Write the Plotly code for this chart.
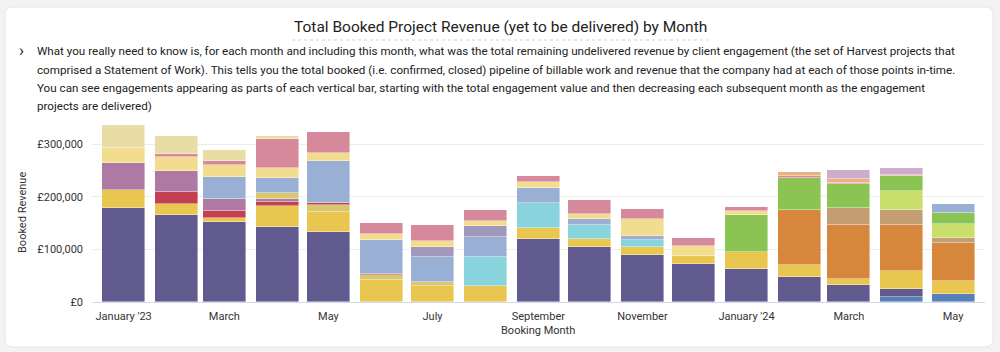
import plotly.graph_objects as go

# ---------------- data (values in £) ----------------
months = ["2023-01-01", "2023-02-01", "2023-03-01", "2023-04-01", "2023-05-01", "2023-06-01",
          "2023-07-01", "2023-08-01", "2023-09-01", "2023-10-01", "2023-11-01", "2023-12-01",
          "2024-01-01", "2024-02-01", "2024-03-01", "2024-04-01", "2024-05-01"]

steel_blue   = [0, 0, 0, 0, 0, 0, 0, 0, 0, 0, 0, 0, 0, 0, 0, 9000, 16000]
purple       = [178000, 166000, 153000, 142000, 134000, 0, 0, 0, 119000, 104000, 89000, 73000, 62000, 47000, 32000, 15000, 0]
yellow       = [35000, 21000, 6000, 41000, 38000, 42000, 30000, 30000, 21000, 15000, 15000, 14000, 34000, 24000, 11000, 35000, 24000]
khaki        = [0, 0, 0, 0, 12000, 8500, 7500, 0, 0, 0, 0, 0, 0, 0, 0, 0, 0]
red          = [0, 23000, 15000, 8000, 4000, 2500, 0, 0, 0, 0, 0, 0, 0, 0, 0, 0, 0]
mauve        = [51000, 40000, 21000, 4000, 0, 0, 0, 0, 0, 0, 0, 0, 0, 0, 0, 0, 0]
khaki_b      = [0, 0, 0, 12000, 0, 0, 0, 0, 0, 0, 0, 0, 0, 0, 0, 0, 0]
cyan         = [0, 0, 0, 0, 0, 0, 0, 55600, 48700, 27600, 13900, 0, 0, 0, 0, 0, 0]
orange       = [0, 0, 0, 0, 0, 0, 0, 0, 0, 0, 0, 0, 0, 104000, 104000, 88000, 73000]
tan          = [0, 0, 0, 0, 0, 0, 0, 0, 0, 0, 0, 0, 0, 0, 31600, 28000, 9500]
blue         = [0, 0, 43600, 29000, 80000, 64000, 48000, 38500, 29000, 11400, 7600, 0, 0, 0, 0, 0, 0]
grey_purple  = [0, 0, 0, 0, 0, 0, 20000, 21000, 0, 0, 0, 0, 0, 0, 0, 0, 0]
lime         = [0, 0, 0, 0, 0, 0, 0, 0, 0, 0, 0, 0, 0, 0, 0, 37000, 26000]
green        = [0, 0, 0, 0, 0, 0, 0, 0, 0, 0, 0, 0, 69000, 60000, 46000, 28000, 20000]
light_yellow = [28000, 26000, 22000, 19700, 15000, 12000, 10000, 9500, 10700, 9500, 31600, 19700, 8900, 0, 0, 0, 0]
pink         = [0, 6000, 7000, 54000, 41000, 21000, 31000, 19600, 10600, 26000, 19700, 15800, 7600, 5000, 1500, 0, 0]
light_orange = [0, 0, 0, 0, 0, 0, 0, 0, 0, 0, 0, 0, 0, 7600, 7600, 2000, 0]
lilac        = [0, 0, 0, 0, 0, 0, 0, 0, 0, 0, 0, 0, 0, 0, 17600, 13000, 0]
pale_khaki   = [44000, 33500, 21000, 6600, 0, 0, 0, 0, 0, 0, 0, 0, 0, 0, 0, 0, 0]
blue_top     = [0, 0, 0, 0, 0, 0, 0, 0, 0, 0, 0, 0, 0, 0, 0, 0, 17000]

series = [
    ("Engagement A", steel_blue, "#5780b8"),
    ("Engagement B", purple, "#605a8f"),
    ("Engagement C", yellow, "#e8c650"),
    ("Engagement D", khaki, "#d9c76c"),
    ("Engagement E", red, "#c2404f"),
    ("Engagement F", mauve, "#ae79a3"),
    ("Engagement G", khaki_b, "#d9c76c"),
    ("Engagement H", cyan, "#89d3dc"),
    ("Engagement I", orange, "#d6873b"),
    ("Engagement J", tan, "#c49e73"),
    ("Engagement K", blue, "#99b0d4"),
    ("Engagement L", grey_purple, "#a099bc"),
    ("Engagement M", lime, "#c9de6b"),
    ("Engagement N", green, "#8bc452"),
    ("Engagement O", light_yellow, "#f2dd8f"),
    ("Engagement P", pink, "#d6899a"),
    ("Engagement Q", light_orange, "#e9b27e"),
    ("Engagement R", lilac, "#cfabcc"),
    ("Engagement S", pale_khaki, "#e8dea5"),
    ("Engagement T", blue_top, "#99b0d4"),
]

tick_vals = ["2023-01-01", "2023-03-01", "2023-05-01", "2023-07-01", "2023-09-01",
             "2023-11-01", "2024-01-01", "2024-03-01", "2024-05-01"]
tick_text = ["January '23", "March", "May", "July", "September", "November",
             "January '24", "March", "May"]

title_text = "Total Booked Project Revenue (yet to be delivered) by Month"
desc_lines = [
    "What you really need to know is, for each month and including this month, what was the total remaining undelivered revenue by client engagement (the set of Harvest projects that",
    "comprised a Statement of Work). This tells you the total booked (i.e. confirmed, closed) pipeline of billable work and revenue that the company had at each of those points in-time.",
    "You can see engagements appearing as parts of each vertical bar, starting with the total engagement value and then decreasing each subsequent month as the engagement",
    "projects are delivered)",
]

# ---------------- layout geometry ----------------
W, H = 1000, 352
L, R, T, B = 92, 985, 118, 302
FONT = "Roboto, Arial, sans-serif"


def px(x):
    return (x - L) / (R - L)


def py(y):
    return (B - y) / (B - T)


fig = go.Figure()
for name, vals, color in series:
    fig.add_trace(go.Bar(
        x=months, y=vals, name=name,
        marker=dict(color=color, line=dict(color="rgba(255,255,255,0.7)", width=0.6)),
        width=25.2 * 86400000,
        hovertemplate="%{x|%B %Y}<br>£%{y:,.0f}<extra>" + name + "</extra>",
    ))

# card with rounded corners
cx0, cx1, cy0, cy1, rad = 5, 993, 7, 347, 8
rx = rad / (R - L)
ry = rad / (B - T)
X0, X1, Y0, Y1 = px(cx0), px(cx1), py(cy1), py(cy0)
card_path = (f"M {X0+rx},{Y0} L {X1-rx},{Y0} Q {X1},{Y0} {X1},{Y0+ry} "
             f"L {X1},{Y1-ry} Q {X1},{Y1} {X1-rx},{Y1} "
             f"L {X0+rx},{Y1} Q {X0},{Y1} {X0},{Y1-ry} "
             f"L {X0},{Y0+ry} Q {X0},{Y0} {X0+rx},{Y0} Z")

shapes = [
    dict(type="path", xref="paper", yref="paper", path=card_path,
         fillcolor="white", line=dict(color="#e6e6e6", width=1), layer="below"),
    dict(type="line", xref="paper", yref="paper", x0=px(292), x1=px(708), y0=py(40), y1=py(40),
         line=dict(color="#d2d2d2", width=1, dash="dot")),
]

annotations = [
    dict(text=title_text, xref="paper", yref="paper", x=px(500), y=py(27),
         xanchor="center", yanchor="middle", showarrow=False,
         font=dict(family=FONT, size=15.5, color="#222222")),
    dict(text="›", xref="paper", yref="paper", x=px(21), y=py(50),
         xanchor="center", yanchor="middle", showarrow=False,
         font=dict(family=FONT, size=17, color="#222222")),
    dict(text="Booked Revenue", xref="paper", yref="paper", x=px(22), y=py(213),
         xanchor="center", yanchor="middle", showarrow=False, textangle=-90,
         font=dict(family=FONT, size=11, color="#333333")),
    dict(text="Booking Month", xref="paper", yref="paper", x=px(538), y=py(330),
         xanchor="center", yanchor="middle", showarrow=False,
         font=dict(family=FONT, size=11, color="#333333")),
]
for i, (line, yy) in enumerate(zip(desc_lines, [51, 70, 88, 106])):
    annotations.append(dict(text=line, xref="paper", yref="paper", x=px(35), y=py(yy),
                            xanchor="left", yanchor="middle", showarrow=False,
                            font=dict(family=FONT, size=11.65, color="#222222")))

fig.update_layout(
    width=W, height=H,
    margin=dict(l=L, r=W - R, t=T, b=H - B, autoexpand=False),
    barmode="stack",
    showlegend=False,
    paper_bgcolor="#f3f3f3",
    plot_bgcolor="rgba(0,0,0,0)",
    font=dict(family=FONT, size=11, color="#444444"),
    shapes=shapes,
    annotations=annotations,
    bargap=0,
)
fig.update_xaxes(
    type="date",
    range=["2022-12-13 11:00", "2024-05-19 18:00"],
    tickvals=tick_vals, ticktext=tick_text,
    showgrid=False, showline=True, linecolor="#d3d8e6", linewidth=1,
    ticks="", tickfont=dict(family=FONT, size=11, color="#333333"),
    ticklabelstandoff=4,
)
fig.update_yaxes(
    range=[0, 350000],
    tickvals=[0, 100000, 200000, 300000],
    ticktext=["£0", "£100,000", "£200,000", "£300,000"],
    showgrid=True, gridcolor="#ebebeb", gridwidth=1,
    zeroline=False, ticks="", ticklabelstandoff=8,
    tickfont=dict(family=FONT, size=11, color="#333333"),
)

fig.write_html("out.html")
